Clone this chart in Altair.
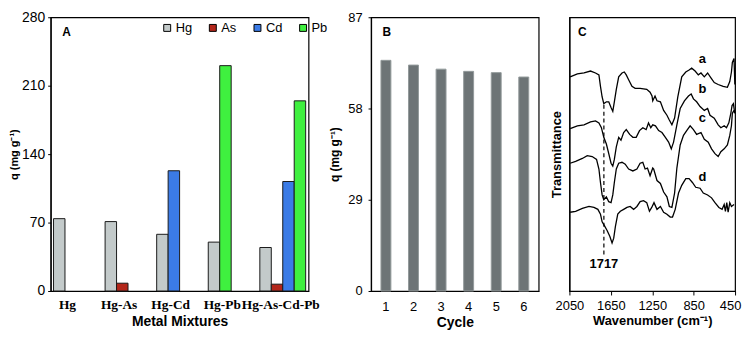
import altair as alt
import pandas as pd

# ---------------- Panel A data ----------------
mixtures = ["Hg", "Hg-As", "Hg-Cd", "Hg-Pb", "Hg-As-Cd-Pb"]
metals = ["Hg", "As", "Cd", "Pb"]
q_hg = [74, 71, 58, 50, 44.5]
q_as = [None, 8, None, None, 7]
q_cd = [None, None, 123, None, 112]
q_pb = [None, None, None, 230.5, 194.5]
metal_colors = ["#c3caca", "#b3261a", "#3b7be6", "#3ff03f"]

# ---------------- Panel B data ----------------
cycles = ["1", "2", "3", "4", "5", "6"]
q_cycle = [73.3, 71.8, 70.5, 69.8, 69.4, 68.0]

# ---------------- Panel C data (FTIR spectra, offset transmittance, a.u.) ----------------
wn_a = [2043, 1973, 1909, 1846, 1798, 1765, 1750, 1734, 1718, 1693, 1670, 1648, 1631, 1616, 1597,
        1574, 1542, 1520, 1501, 1478, 1446, 1415, 1367, 1303, 1271, 1252, 1245, 1223, 1204, 1171,
        1140, 1108, 1085, 1060, 1034, 1003, 965, 926, 894, 869, 836, 805, 779, 747, 715, 683, 651,
        613, 565, 524, 501, 485, 476, 460, 452]
t_a = [223, 226, 227, 229, 227, 225, 213, 202, 195, 197, 197, 191, 187, 197, 210,
       223, 227, 228, 225, 220, 213, 211, 211, 210, 207, 203, 198, 203, 198, 197,
       188, 183, 178, 173, 180, 202, 223, 228, 230, 232, 229, 225, 227, 223, 227, 222, 217,
       215, 213, 212, 218, 228, 238, 242, 215]
wn_b = [2043, 1973, 1909, 1846, 1798, 1765, 1741, 1718, 1693, 1670, 1648, 1631, 1616, 1597, 1574,
        1552, 1526, 1501, 1468, 1437, 1405, 1373, 1341, 1309, 1286, 1264, 1245, 1219, 1188, 1156,
        1123, 1092, 1066, 1044, 1012, 980, 939, 900, 874, 852, 821, 788, 747, 715, 692, 651, 613,
        587, 555, 533, 510, 491, 479, 466, 453]
t_b = [169, 172, 173, 176, 177, 175, 170, 160, 153, 143, 133, 130, 137, 150, 160,
       157, 165, 168, 163, 160, 160, 167, 170, 168, 175, 170, 173, 172, 167, 165,
       160, 155, 148, 155, 173, 190, 198, 203, 205, 200, 197, 192, 188, 190, 183, 180, 173,
       170, 172, 170, 175, 185, 193, 195, 185]
wn_c = [2043, 1990, 1925, 1878, 1830, 1788, 1765, 1750, 1734, 1718, 1693, 1670, 1648, 1631, 1616,
        1597, 1574, 1542, 1511, 1478, 1437, 1398, 1367, 1341, 1319, 1296, 1271, 1245, 1236, 1204,
        1171, 1140, 1108, 1085, 1060, 1034, 1012, 980, 948, 917, 884, 852, 821, 779, 747, 709, 677,
        644, 613, 587, 555, 524, 501, 485, 476, 460]
t_c = [133, 135, 138, 141, 140, 137, 127, 113, 100, 95, 98, 93, 92, 100, 113,
       127, 133, 134, 132, 127, 125, 127, 133, 134, 127, 128, 120, 128, 127, 115,
       112, 103, 98, 88, 87, 102, 128, 152, 162, 167, 172, 168, 163, 165, 158, 155, 148,
       143, 140, 145, 148, 152, 162, 172, 185, 188]
wn_d = [2043, 1990, 1925, 1861, 1813, 1775, 1750, 1734, 1712, 1686, 1660, 1638, 1622, 1606, 1583,
        1558, 1526, 1494, 1463, 1430, 1398, 1367, 1334, 1303, 1277, 1255, 1233, 1204, 1171, 1140,
        1108, 1076, 1054, 1028, 996, 965, 926, 894, 862, 830, 788, 757, 715, 677, 644, 606, 575,
        555, 543, 530, 517, 501, 485, 460]
t_d = [82, 83, 86, 88, 87, 85, 80, 72, 68, 63, 57, 50, 55, 67, 80,
       83, 85, 87, 88, 85, 88, 93, 94, 92, 83, 87, 92, 85, 88, 82,
       80, 77, 77, 85, 102, 110, 117, 117, 113, 108, 107, 102, 100, 97, 92, 87, 85,
       90, 83, 92, 82, 92, 88, 90]
spectrum_names = ["a", "b", "c", "d"]
spectrum_label_wn = [766, 766, 766, 766]
spectrum_label_t = [241, 210, 180, 119]
peak_wn = 1717
peak_t_range = [38, 195]
peak_label_t = 28

SANS = "Liberation Sans"
SERIF = "Liberation Serif"

# ---------------- build tables ----------------
series = {"Hg": q_hg, "As": q_as, "Cd": q_cd, "Pb": q_pb}
rows_a = []
for i, g in enumerate(mixtures):
    slot = 0
    for m in metals:
        v = series[m][i]
        if v is not None:
            rows_a.append({"mixture": g, "metal": m, "q": v, "slot": slot})
            slot += 1
df_a = pd.DataFrame(rows_a)
df_b = pd.DataFrame({"cycle": cycles, "q": q_cycle})

rows_c = []
for name, wns, ts in zip(spectrum_names, [wn_a, wn_b, wn_c, wn_d], [t_a, t_b, t_c, t_d]):
    for k, (w, t) in enumerate(zip(wns, ts)):
        rows_c.append({"spectrum": name, "wn": w, "T": t, "idx": k})
df_c = pd.DataFrame(rows_c)
df_lab = pd.DataFrame({"name": spectrum_names, "wn": spectrum_label_wn, "T": spectrum_label_t})
df_rule = pd.DataFrame({"wn": [peak_wn], "t1": [peak_t_range[0]], "t2": [peak_t_range[1]],
                        "lab": [str(peak_wn)], "tl": [peak_label_t]})

H = 276

# ---------------- Panel A ----------------
bars_a = alt.Chart(df_a).mark_bar(stroke="#1a1a1a", strokeWidth=1).encode(
    x=alt.X("mixture:N", sort=mixtures,
            scale=alt.Scale(paddingInner=0, paddingOuter=0),
            axis=alt.Axis(title="Metal Mixtures", labelAngle=0, labelFont=SERIF,
                          labelFontWeight="bold", labelFontSize=13.5, ticks=False,
                          labelOverlap=False,
                          labelOffset={"condition": {"test": "datum.value == 'Hg-As-Cd-Pb'",
                                                     "value": -2},
                                       "value": -9},
                          labelPadding=7, titlePadding=3, titleFontSize=14,
                          titleFontWeight="bold")),
    xOffset=alt.XOffset("slot:O", scale=alt.Scale(domain=[0, 1, 2, 3], paddingInner=0,
                                                  paddingOuter=0.25)),
    y=alt.Y("q:Q", scale=alt.Scale(domain=[0, 280], nice=False),
            axis=alt.Axis(values=[0, 70, 140, 210, 280], title="q (mg g⁻¹)", grid=False,
                          labelFontSize=14, tickSize=3, labelPadding=3, titlePadding=2,
                          titleFontSize=11, titleFontWeight="bold")),
    color=alt.Color("metal:N", scale=alt.Scale(domain=metals, range=metal_colors),
                    legend=alt.Legend(title=None, orient="none", legendX=111, legendY=4,
                                      direction="horizontal", symbolType="square",
                                      symbolSize=49, symbolStrokeColor="black",
                                      symbolStrokeWidth=1, labelFontSize=13, labelFont=SANS,
                                      labelOffset=2, columnPadding=14, padding=0)),
)
letter_a = alt.Chart(pd.DataFrame({"t": ["A"]})).mark_text(
    fontSize=12, fontWeight="bold", font=SANS, color="black").encode(
    x=alt.value(16), y=alt.value(15), text="t:N")
panel_a = alt.layer(bars_a, letter_a).properties(width=260, height=H)

# ---------------- Panel B ----------------
bars_b = alt.Chart(df_b).mark_bar(color="#6d7476", stroke="#939a9b", strokeWidth=1).encode(
    x=alt.X("cycle:N", sort=cycles, scale=alt.Scale(paddingInner=0.64, paddingOuter=0.36),
            axis=alt.Axis(title="Cycle", labelAngle=0, ticks=False, labelPadding=10,
                          labelFontSize=13, titlePadding=2, titleFontSize=14,
                          titleFontWeight="bold")),
    y=alt.Y("q:Q", scale=alt.Scale(domain=[0, 87], nice=False),
            axis=alt.Axis(values=[0, 29, 58, 87], title="q (mg g⁻¹)", grid=False,
                          labelFontSize=13, tickSize=3, labelPadding=6, titlePadding=6,
                          titleFontSize=12, titleFontWeight="bold")),
)
letter_b = alt.Chart(pd.DataFrame({"t": ["B"]})).mark_text(
    fontSize=12, fontWeight="bold", font=SANS, color="black").encode(
    x=alt.value(16), y=alt.value(15), text="t:N")
panel_b = alt.layer(bars_b, letter_b).properties(width=169, height=H)

# ---------------- Panel C ----------------
xC = alt.X("wn:Q", scale=alt.Scale(domain=[450, 2050], reverse=True, nice=False),
           axis=alt.Axis(values=[2050, 1650, 1250, 850, 450], format="d", grid=False,
                         labelOverlap=False, labelFlush=False,
                         labelOffset={"condition": {"test": "datum.value == 450", "value": -5},
                                      "value": 0},
                         tickSize=4, labelPadding=5, labelFontSize=13,
                         title="Wavenumber (cm⁻¹)", titlePadding=2, titleFontSize=13,
                         titleFontWeight="bold"))
yC = alt.Y("T:Q", scale=alt.Scale(domain=[0, 285], nice=False),
           axis=alt.Axis(labels=False, ticks=False, grid=False, title="Transmittance",
                         titlePadding=6, titleFontSize=13, titleFontWeight="bold"))
lines_c = alt.Chart(df_c).mark_line(color="black", strokeWidth=1.3).encode(
    x=xC, y=yC, detail="spectrum:N", order="idx:Q")
rule_c = alt.Chart(df_rule).mark_rule(color="black", strokeDash=[4, 3], strokeWidth=1.2).encode(
    x="wn:Q", y="t1:Q", y2="t2:Q")
peak_text = alt.Chart(df_rule).mark_text(fontSize=13, fontWeight="bold", font=SANS,
                                         color="black").encode(
    x="wn:Q", y="tl:Q", text="lab:N")
lab_text = alt.Chart(df_lab).mark_text(fontSize=13, fontWeight="bold", font=SANS,
                                       color="black").encode(
    x="wn:Q", y="T:Q", text="name:N")
letter_c = alt.Chart(pd.DataFrame({"t": ["C"]})).mark_text(
    fontSize=12, fontWeight="bold", font=SANS, color="black").encode(
    x=alt.value(13), y=alt.value(15), text="t:N")
panel_c = alt.layer(lines_c, rule_c, peak_text, lab_text, letter_c).properties(width=167, height=H)

chart = alt.hconcat(
    panel_a,
    alt.hconcat(panel_b, panel_c, spacing=10),
    spacing=7,
).properties(
    padding={"left": 0, "top": 0, "right": 0, "bottom": 0}
).configure_view(
    stroke="black", strokeWidth=1.2
).configure_axis(
    domainColor="black", domainWidth=1.2, tickColor="black", labelColor="black",
    titleColor="black", labelFont=SANS, titleFont=SANS
).configure_text(font=SANS)

chart.save("out.html", embed_options={"renderer": "svg", "actions": False})
